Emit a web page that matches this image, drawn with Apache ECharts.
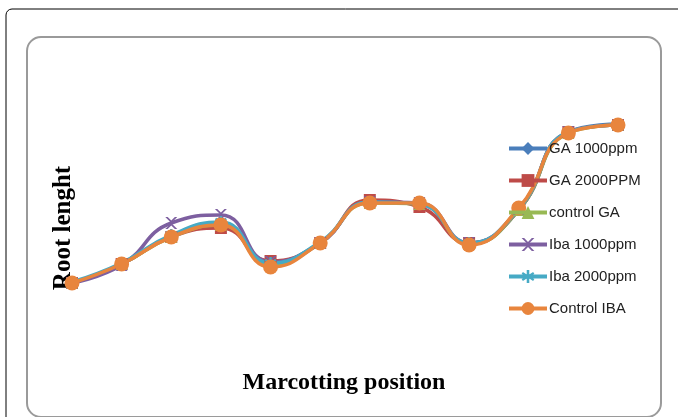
<!DOCTYPE html>
<html>
<head>
<meta charset="utf-8">
<style>
  html, body { margin: 0; padding: 0; background: #fff; }
  #chart { width: 678px; height: 417px; }
</style>
<script src="https://cdn.jsdelivr.net/npm/echarts@6/dist/echarts.min.js"></script>
</head>
<body>
<div id="chart"></div>
<script>
// Marcotting positions along the branch
const positions = ['1', '2', '3', '4', '5', '6', '7', '8', '9', '10', '11', '12'];

// Root length per treatment
const ga1000   = [1.7, 3.6, 6.4, 7.6, 3.6, 5.7, 9.8, 9.6, 5.6, 9.0, 16.8, 17.6];
const ga2000   = [1.7, 3.6, 6.3, 7.2, 3.9, 5.7, 10.0, 9.3, 5.7, 9.0, 16.8, 17.5];
const controlGA = [1.7, 3.6, 6.3, 7.5, 3.5, 5.7, 9.7, 9.6, 5.6, 9.0, 16.7, 17.5];
const iba1000  = [1.7, 3.5, 7.7, 8.5, 3.8, 5.7, 9.8, 9.7, 5.7, 9.1, 16.8, 17.5];
const iba2000  = [1.8, 3.7, 6.5, 7.8, 3.7, 5.8, 9.8, 9.6, 5.7, 9.1, 16.8, 17.5];
const controlIBA = [1.7, 3.6, 6.3, 7.5, 3.3, 5.7, 9.7, 9.7, 5.5, 9.2, 16.7, 17.5];

const seriesNames = ['GA 1000ppm', 'GA 2000PPM', 'control GA', 'Iba 1000ppm', 'Iba 2000ppm', 'Control IBA'];
const seriesData = [ga1000, ga2000, controlGA, iba1000, iba2000, controlIBA];
const colors = ['#4A7EBB', '#BE4B48', '#98B954', '#7D5FA0', '#46AAC5', '#E8853D'];

// cross-like marks drawn as paths
const xPath = 'path://M0,0 L2,0 L5,3 L8,0 L10,0 L6,4 L6,6 L10,10 L8,10 L5,7 L2,10 L0,10 L4,6 L4,4 Z';
const starPath = 'path://M4,0 L6,0 L6,3.5 L9,1.5 L10,3 L6.8,5 L10,7 L9,8.5 L6,6.5 L6,10 L4,10 L4,6.5 L1,8.5 L0,7 L3.2,5 L0,3 L1,1.5 L4,3.5 Z';
const symbols = ['diamond', 'rect', 'triangle', xPath, starPath, 'circle'];
const sizes = [11, 12, 12, 12, 12, 15];
const legendSizes = [12, 14, 14, 12, 12, 15];

const chart = echarts.init(document.getElementById('chart'));

chart.setOption({
  animation: false,
  color: colors,
  grid: { left: 72, right: 60, top: 100, bottom: 117 },
  xAxis: {
    type: 'category',
    data: positions,
    boundaryGap: false,
    show: false
  },
  yAxis: {
    type: 'value',
    min: 0,
    max: 20,
    show: false
  },
  legend: {
    orient: 'vertical',
    left: 502,
    top: 136,
    itemWidth: 38,
    itemHeight: 16,
    itemGap: 17,
    textStyle: { fontFamily: 'Liberation Sans', fontSize: 15, color: '#222', padding: [0, 0, 0, -3] },
    data: seriesNames.map((n, i) => ({
      name: n,
      itemStyle: { color: colors[i] },
      lineStyle: { width: 4, color: colors[i] },
      symbolSize: legendSizes[i]
    }))
  },
  graphic: [
    {
      type: 'rect',
      shape: { x: 6, y: 9, width: 690, height: 420, r: 6 },
      style: { fill: 'none', stroke: '#000', lineWidth: 1 },
      z: -10
    },
    {
      type: 'rect',
      shape: { x: 27, y: 37, width: 634, height: 380, r: 14 },
      style: { fill: 'none', stroke: '#9a9a9a', lineWidth: 2 },
      z: -10
    },
    {
      type: 'text',
      x: 64, y: 228,
      rotation: Math.PI / 2,
      style: {
        text: 'Root lenght',
        font: 'bold 25px "Liberation Serif"',
        fill: '#000',
        align: 'center',
        verticalAlign: 'middle'
      },
      z: 1
    },
    {
      type: 'text',
      x: 344, y: 383,
      style: {
        text: 'Marcotting position',
        font: 'bold 24px "Liberation Serif"',
        fill: '#000',
        align: 'center',
        verticalAlign: 'middle'
      }
    }
  ],
  series: seriesNames.map((name, i) => ({
    name: name,
    type: 'line',
    data: seriesData[i],
    smooth: 0.5,
    symbol: symbols[i],
    symbolSize: sizes[i],
    showAllSymbol: true,
    lineStyle: { width: 3.5, color: colors[i] },
    itemStyle: { color: colors[i] }
  }))
});
</script>
</body>
</html>
